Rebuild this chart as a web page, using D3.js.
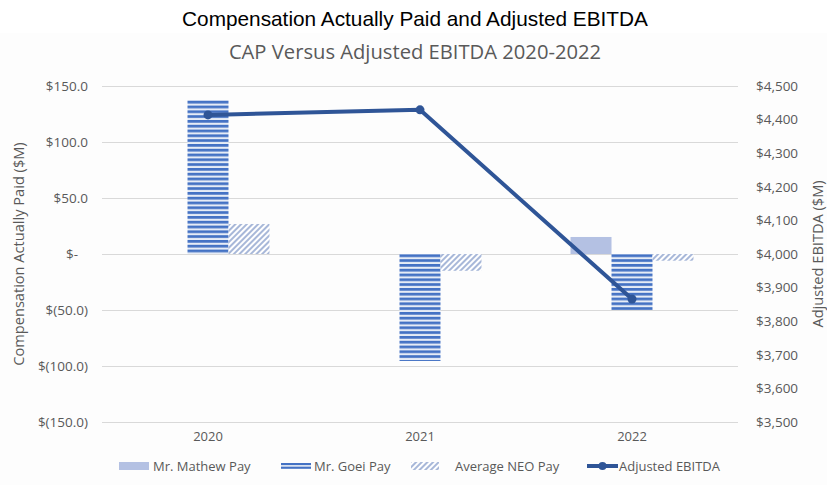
<!DOCTYPE html>
<html>
<head>
  <meta charset="utf-8">
  <title>Compensation Actually Paid and Adjusted EBITDA</title>
  <script src="https://d3js.org/d3.v7.min.js"></script>
  <style>
    body { margin: 0; background: #ffffff; }
    svg text { font-family: "Open Sans", sans-serif; }
  </style>
</head>
<body>
  <div id="chart"></div>
  <script>
    const years = ["2020", "2021", "2022"];
    const mathewPay = [0, 0, 15.2];
    const goeiPay = [137.5, -95.5, -50.0];
    const neoPay = [26.8, -15.0, -6.0];
    const ebitda = [4414, 4429, 3866];

    const leftTicks = [150, 100, 50, 0, -50, -100, -150];
    const rightTicks = [4500, 4400, 4300, 4200, 4100, 4000, 3900, 3800, 3700, 3600, 3500];

    const seriesNames = ["Mr. Mathew Pay", "Mr. Goei Pay", "Average NEO Pay"];
    const seriesData = [mathewPay, goeiPay, neoPay];

    const W = 827, H = 485;
    const plot = { left: 102, right: 738, top: 86, bottom: 422 };
    const gray = "#595959";
    const lineColor = "#2F5597";

    const svg = d3.select("#chart").append("svg")
      .attr("width", W)
      .attr("height", H);

    // patterns for the bars
    const defs = svg.append("defs");
    const goeiPat = defs.append("pattern")
      .attr("id", "goei")
      .attr("patternUnits", "userSpaceOnUse")
      .attr("width", 8)
      .attr("height", 4.8);
    goeiPat.append("rect").attr("width", 8).attr("height", 4.8).attr("fill", "#e6ecf6");
    goeiPat.append("rect").attr("width", 8).attr("height", 2.7).attr("fill", "#4472C4");

    const neoPat = defs.append("pattern")
      .attr("id", "neo")
      .attr("patternUnits", "userSpaceOnUse")
      .attr("width", 4)
      .attr("height", 4)
      .attr("patternTransform", "rotate(45)");
    neoPat.append("rect").attr("width", 4).attr("height", 4).attr("fill", "#ffffff");
    neoPat.append("line")
      .attr("x1", 1).attr("y1", 0).attr("x2", 1).attr("y2", 4)
      .attr("stroke", "#6d88bf")
      .attr("stroke-width", 1.2);

    const fills = ["#b4c1e3", "url(#goei)", "url(#neo)"];

    // chart area background
    svg.append("rect")
      .attr("x", 0).attr("y", 33)
      .attr("width", W).attr("height", H - 33)
      .attr("fill", "#fdfdfd");

    // titles
    svg.append("text")
      .attr("x", 415).attr("y", 26)
      .attr("text-anchor", "middle")
      .style("font-family", "'Liberation Sans', Arial, sans-serif")
      .style("font-size", "20.8px")
      .attr("fill", "#000")
      .text("Compensation Actually Paid and Adjusted EBITDA");

    svg.append("text")
      .attr("x", 415).attr("y", 59)
      .attr("text-anchor", "middle")
      .style("font-size", "20.2px")
      .attr("fill", gray)
      .text("CAP Versus Adjusted EBITDA 2020-2022");

    // scales
    const x0 = d3.scaleBand()
      .domain(years)
      .range([plot.left, plot.right])
      .paddingInner(0.42)
      .paddingOuter(0.21);

    const x1 = d3.scaleBand()
      .domain(seriesNames)
      .range([0, x0.bandwidth()]);

    const yL = d3.scaleLinear().domain([-150, 150]).range([plot.bottom, plot.top]);
    const yR = d3.scaleLinear().domain([3500, 4500]).range([plot.bottom, plot.top]);

    // gridlines
    svg.append("g")
      .selectAll("line")
      .data(leftTicks)
      .join("line")
      .attr("x1", plot.left).attr("x2", plot.right)
      .attr("y1", d => yL(d) + 0.5).attr("y2", d => yL(d) + 0.5)
      .attr("stroke", "#d9d9d9")
      .attr("stroke-width", 1);

    // left axis
    const fmtLeft = d => d === 0 ? "$-" : d < 0 ? "$(" + d3.format(".1f")(-d) + ")" : "$" + d3.format(".1f")(d);
    const axL = svg.append("g")
      .attr("transform", `translate(${plot.left - 14},0)`)
      .call(d3.axisLeft(yL).tickValues(leftTicks).tickFormat(fmtLeft).tickSize(0).tickPadding(0));
    axL.select(".domain").remove();
    axL.selectAll("text")
      .attr("fill", gray)
      .style("font-size", "13.5px")
      .style("font-family", "'Open Sans', sans-serif");
    axL.selectAll("text").filter(d => d === 0).attr("dx", -10);

    // right axis
    const axR = svg.append("g")
      .attr("transform", `translate(${plot.right + 18},0)`)
      .call(d3.axisRight(yR).tickValues(rightTicks).tickFormat(d => "$" + d3.format(",")(d)).tickSize(0).tickPadding(0));
    axR.select(".domain").remove();
    axR.selectAll("text")
      .attr("fill", gray)
      .style("font-size", "13.5px")
      .style("font-family", "'Open Sans', sans-serif");

    // x axis labels
    const axX = svg.append("g")
      .attr("transform", `translate(0,${plot.bottom + 9})`)
      .call(d3.axisBottom(x0).tickSize(0).tickPadding(0));
    axX.select(".domain").remove();
    axX.selectAll("text")
      .attr("fill", gray)
      .attr("dy", "0.75em")
      .style("font-size", "13px")
      .style("font-family", "'Open Sans', sans-serif");

    // axis titles
    svg.append("text")
      .attr("transform", `translate(24,${(plot.top + plot.bottom) / 2}) rotate(-90)`)
      .attr("text-anchor", "middle")
      .attr("fill", gray)
      .style("font-size", "14.6px")
      .text("Compensation Actually Paid ($M)");

    svg.append("text")
      .attr("transform", `translate(823,${(plot.top + plot.bottom) / 2}) rotate(-90)`)
      .attr("text-anchor", "middle")
      .attr("fill", gray)
      .style("font-size", "14.6px")
      .text("Adjusted EBITDA ($M)");

    // bars
    seriesNames.forEach((name, s) => {
      svg.append("g")
        .selectAll("rect")
        .data(years)
        .join("rect")
        .attr("x", (yr) => x0(yr) + x1(name))
        .attr("width", x1.bandwidth())
        .attr("y", (yr, i) => yL(Math.max(0, seriesData[s][i])))
        .attr("height", (yr, i) => Math.abs(yL(seriesData[s][i]) - yL(0)))
        .attr("fill", fills[s]);
    });

    // EBITDA line
    const pts = years.map((yr, i) => [x0(yr) + x0.bandwidth() / 2, yR(ebitda[i])]);
    svg.append("path")
      .datum(pts)
      .attr("fill", "none")
      .attr("stroke", lineColor)
      .attr("stroke-width", 4)
      .attr("stroke-linejoin", "round")
      .attr("d", d3.line());
    svg.append("g")
      .selectAll("circle")
      .data(pts)
      .join("circle")
      .attr("cx", d => d[0])
      .attr("cy", d => d[1])
      .attr("r", 4.5)
      .attr("fill", lineColor);

    // legend
    const ly = 466;
    const legend = svg.append("g");
    const lx = [119, 281, 411, 587];
    const labels = ["Mr. Mathew Pay", "Mr. Goei Pay", "Average NEO Pay", "Adjusted EBITDA"];

    legend.append("rect").attr("x", lx[0]).attr("y", ly - 4).attr("width", 30).attr("height", 8).attr("fill", fills[0]);
    legend.append("rect").attr("x", lx[1]).attr("y", ly - 3).attr("width", 30).attr("height", 2.2).attr("fill", "#4472C4");
    legend.append("rect").attr("x", lx[1]).attr("y", ly + 0.6).attr("width", 30).attr("height", 2.2).attr("fill", "#4472C4");
    legend.append("rect").attr("x", lx[2]).attr("y", ly - 4).attr("width", 28).attr("height", 8).attr("fill", fills[2]);
    legend.append("line").attr("x1", lx[3]).attr("x2", lx[3] + 31).attr("y1", ly).attr("y2", ly)
      .attr("stroke", lineColor).attr("stroke-width", 4);
    legend.append("circle").attr("cx", lx[3] + 15.5).attr("cy", ly).attr("r", 4).attr("fill", lineColor);

    const textX = [153, 314, 455, 619];
    legend.selectAll("text.lbl")
      .data(labels)
      .join("text")
      .attr("class", "lbl")
      .attr("x", (d, i) => textX[i])
      .attr("y", ly)
      .attr("dy", "0.35em")
      .attr("fill", gray)
      .style("font-size", "13px")
      .text(d => d);
  </script>
</body>
</html>
